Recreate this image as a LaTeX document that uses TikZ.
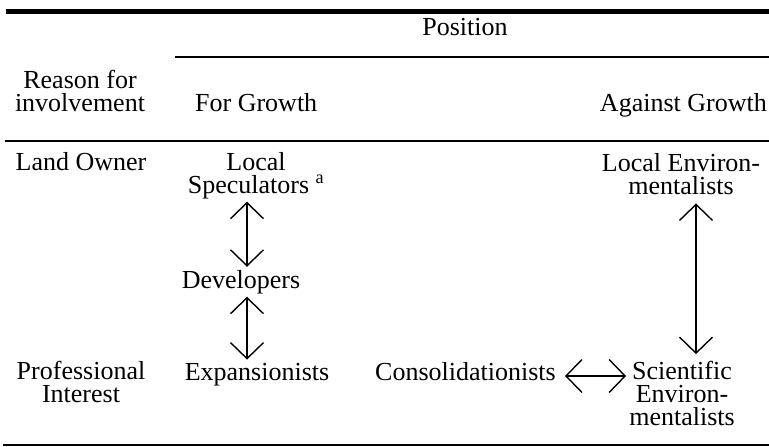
\documentclass[tikz,border=0pt]{standalone}
\usepackage{fontspec}
\setmainfont{Liberation Serif}
\usetikzlibrary{arrows.meta}
\begin{document}
\begin{tikzpicture}[x=1pt,y=-1pt,
  txt/.style={inner sep=3pt, font=\fontsize{26}{22.7}\selectfont, align=center},
  dbl/.style={line width=1.4pt, {Straight Barb[length=16pt,width=33pt]}-{Straight Barb[length=16pt,width=33pt]}},
  rulethick/.style={line width=4.5pt},
  rulethin/.style={line width=2.2pt}]
\useasboundingbox (0,0) rectangle (769,447);
% rules
\draw[rulethick] (6,11.5) -- (769,11.5);
\draw[rulethin] (175,57) -- (769,57);
\draw[rulethin] (5,141) -- (769,141);
\draw[rulethin] (3,445) -- (769,445);
% headings
\node[txt, anchor=base] (pos) at (465,35) {Position};
\node[txt, anchor=base] (reason) at (80,111) {Reason for\\involvement};
\node[txt, anchor=base west] (forg) at (192,111) {For Growth};
\node[txt, anchor=base east] (agg) at (770,111) {Against Growth};
% rows
\node[txt, anchor=base] (land) at (81,170) {Land Owner};
\node[txt, anchor=base] (spec) at (256,193) {Local\\Speculators \textsuperscript{a}};
\node[txt, anchor=base] (dev) at (241,288) {Developers};
\node[txt, anchor=base] (exp) at (257,380) {Expansionists};
\node[txt, anchor=base] (prof) at (81,402) {Professional\\Interest};
\node[txt, anchor=base east] (cons) at (559,380) {Consolidationists};
\node[txt, anchor=base] (sci) at (682,425) {Scientific\\Environ-\\mentalists};
\node[txt, anchor=base] (locenv) at (681,194) {Local Environ-\\mentalists};
% connectors
\coordinate (xl) at (247,0);
\coordinate (xr) at (696,0);
\coordinate (yh) at (0,376);
\draw[dbl] (spec.south -| xl) -- (dev.north -| xl);
\draw[dbl] (dev.south -| xl) -- (exp.north -| xl);
\draw[dbl, shorten <=6pt, shorten >=4pt] (locenv.south -| xr) -- (sci.north -| xr);
\draw[dbl, shorten <=6pt] (cons.east |- yh) -- (sci.west |- yh);
\end{tikzpicture}
\end{document}
